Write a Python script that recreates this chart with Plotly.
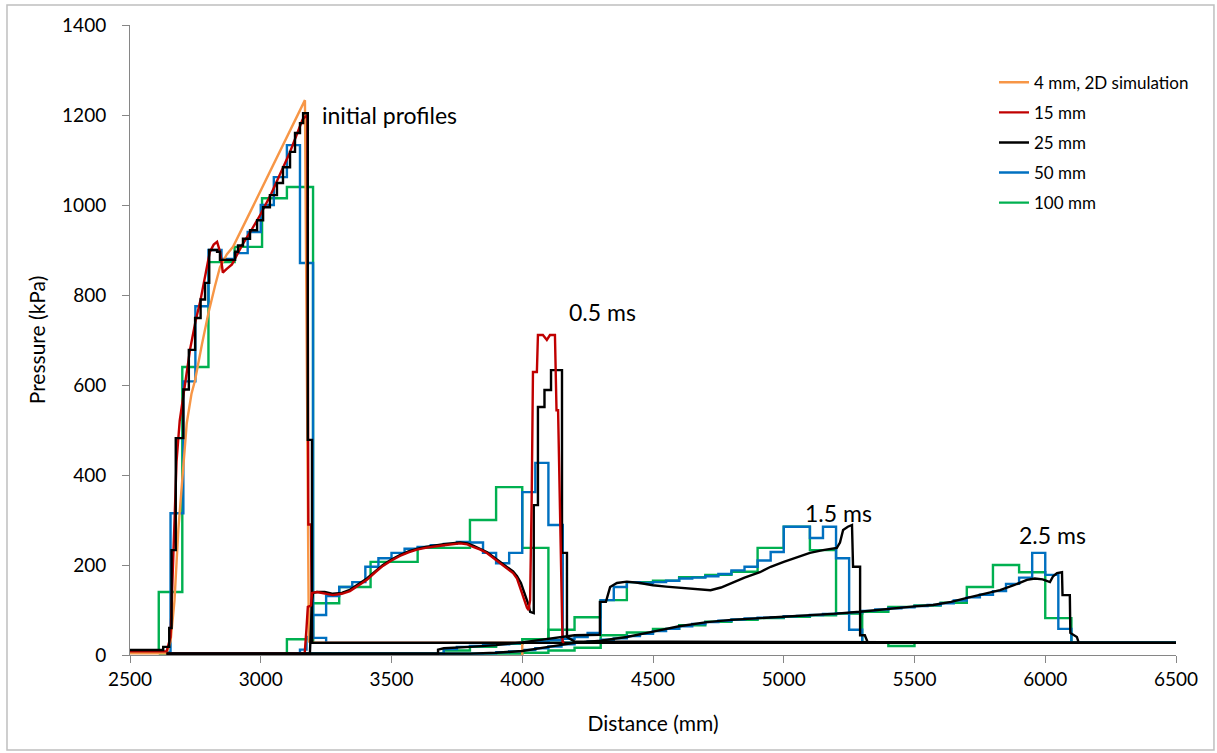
import plotly.graph_objects as go

# ---------------- series colours ----------------
C_4MM = "#F79646"
C_15MM = "#C00000"
C_25MM = "#000000"
C_50MM = "#0070C0"
C_100MM = "#00B050"

# ---------------- initial profiles ----------------
init_4mm_x = [2500, 2640, 2655, 2670, 2685, 2700, 2717, 2735, 2749, 2775, 2800, 2825, 2844, 2870, 2894,
              2950, 3000, 3050, 3100, 3140, 3169, 3184, 3190, 4000, 4000]
init_4mm_y = [4, 4, 30, 120, 280, 400, 515, 580, 611, 690, 760, 820, 862, 890, 907,
              973, 1033, 1092, 1152, 1198, 1233, 30, 27, 27, 0]

init_15mm_x = [2500, 2640, 2655, 2662, 2670, 2678, 2690, 2710, 2730, 2750, 2770, 2790, 2805, 2820, 2833,
               2845, 2855, 2870, 2890, 2910, 2930, 2960, 3000, 3040, 3080, 3110, 3140, 3160, 3178,
               3182, 3192, 3196, 4000]
init_15mm_y = [8, 8, 40, 150, 300, 430, 520, 600, 680, 740, 790, 850, 895, 912, 918,
               895, 850, 858, 868, 890, 912, 940, 980, 1025, 1075, 1115, 1160, 1190, 1200,
               290, 290, 27, 27]

# 25 mm cells (step starts / cell values)
init_25mm_x = [2500, 2627, 2650, 2659, 2675, 2704, 2725, 2749, 2770, 2787, 2803, 2833, 2844, 2902, 2913,
               2932, 2959, 2986, 3009, 3035, 3062, 3085, 3112, 3131, 3150, 3162, 3180, 3196, 6500]
init_25mm_y = [11, 18, 60, 233, 482, 590, 678, 749, 790, 827, 900, 896, 878, 896, 910,
               925, 944, 966, 995, 1022, 1049, 1084, 1118, 1160, 1182, 1204, 478, 27, 27]

init_50mm_x = [2500, 2655, 2704, 2750, 2800, 2850, 2900, 2950, 3000, 3050, 3100, 3150, 3200, 3250, 6500]
init_50mm_y = [6, 315, 608, 775, 900, 880, 893, 940, 1000, 1062, 1133, 871, 38, 27, 27]

init_100mm_x = [2500, 2610, 2700, 2800, 2900, 3005, 3100, 3200, 6500]
init_100mm_y = [5, 140, 640, 873, 907, 1015, 1040, 27, 27]

# ---------------- 0.5 ms profiles ----------------
t05_15mm_x = [2640, 3168, 3175, 3180, 3192, 3196, 3215, 3245, 3276, 3310, 3341, 3375, 3406, 3440, 3467,
              3500, 3532, 3565, 3597, 3630, 3659, 3700, 3762, 3790, 3812, 3840, 3866, 3890, 3915,
              3940, 3965, 3980, 3991, 4005, 4018, 4024, 4030, 4036, 4041, 4056, 4060, 4079, 4094,
              4106, 4125, 4131, 4137, 4154, 4160]
t05_15mm_y = [3, 3, 60, 107, 110, 138, 140, 136, 133, 136, 142, 155, 167, 185, 198,
              210, 220, 228, 234, 238, 241, 244, 248, 246, 240, 234, 226, 215, 204,
              193, 182, 170, 151, 125, 105, 100, 122, 344, 629, 629, 711, 711, 700,
              711, 711, 544, 544, 30, 27]

t05_25mm_x = [2640, 3188, 3196, 3200, 3215, 3245, 3276, 3310, 3341, 3375, 3406, 3440, 3467, 3500, 3532,
              3565, 3597, 3630, 3659, 3700, 3762, 3790, 3812, 3840, 3866, 3890, 3915, 3940, 3965,
              3980, 3995, 4010, 4025, 4030, 4044, 4044, 4060, 4060, 4085, 4085, 4110, 4110, 4152,
              4152, 4171, 4171, 4200, 6500]
t05_25mm_y = [3, 3, 122, 138, 140, 140, 136, 138, 145, 158, 170, 187, 200, 212, 222,
              230, 236, 240, 243, 246, 250, 248, 243, 236, 228, 218, 206, 196, 186,
              175, 160, 135, 110, 96, 93, 333, 333, 551, 551, 589, 589, 633, 633,
              227, 227, 40, 30, 27]

t05_50mm_x = [2655, 3150, 3175, 3200, 3250, 3300, 3350, 3400, 3450, 3500, 3550, 3600, 3650, 3700, 3750,
              3800, 3850, 3900, 3950, 4000, 4050, 4100, 4155, 6500]
t05_50mm_y = [3, 12, 40, 89, 131, 151, 162, 196, 215, 227, 236, 240, 244, 247, 251,
              250, 227, 204, 227, 362, 427, 289, 27, 27]

t05_100mm_x = [2610, 3100, 3200, 3300, 3420, 3600, 3800, 3900, 4000, 4100, 6500]
t05_100mm_y = [3, 35, 115, 151, 207, 238, 300, 373, 238, 27, 27]

# ---------------- 1.5 ms profiles ----------------
t15_25mm_x = [2640, 3678, 3678, 3700, 3800, 3900, 4000, 4100, 4200, 4297, 4297, 4320, 4336, 4362, 4400,
              4450, 4500, 4550, 4600, 4650, 4720, 4760, 4800, 4850, 4909, 4950, 5000, 5050, 5100,
              5150, 5203, 5215, 5227, 5245, 5261, 5265, 5292, 5292, 5310, 5322, 6500]
t15_25mm_y = [3, 3, 12, 15, 18, 22, 28, 36, 44, 45, 118, 118, 151, 160, 163,
              160, 155, 152, 150, 147, 144, 150, 160, 172, 184, 196, 207, 217, 227,
              233, 238, 250, 278, 285, 289, 196, 196, 44, 44, 27, 27]

t15_50mm_x = [2640, 3700, 3750, 3800, 3850, 3900, 3950, 4000, 4050, 4100, 4150, 4200, 4250, 4300, 4350,
              4400, 4450, 4500, 4550, 4600, 4650, 4700, 4750, 4800, 4850, 4900, 4950, 5000, 5050,
              5100, 5150, 5200, 5250, 5300, 6500]
t15_50mm_y = [3, 13, 18, 20, 22, 24, 26, 28, 30, 33, 36, 40, 49, 122, 151,
              162, 160, 162, 165, 170, 172, 175, 180, 188, 196, 210, 229, 285, 285,
              260, 285, 215, 56, 27, 27]

t15_100mm_x = [2640, 3700, 3800, 3900, 4000, 4100, 4200, 4300, 4400, 4500, 4600, 4700, 4800, 4900, 5000,
               5100, 5200, 5300, 5400, 5500, 6500]
t15_100mm_y = [3, 10, 18, 25, 35, 56, 84, 122, 162, 165, 173, 178, 185, 238, 285,
               233, 93, 27, 20, 27, 27]

# ---------------- 2.5 ms profiles ----------------
t25_25mm_x = [2640, 3800, 3900, 4000, 4100, 4200, 4300, 4400, 4500, 4600, 4706, 4800, 4909, 5000, 5100,
              5200, 5291, 5400, 5500, 5571, 5640, 5701, 5760, 5827, 5880, 5930, 5960, 5990, 6018,
              6030, 6045, 6064, 6066, 6094, 6096, 6121, 6128, 6500]
t25_25mm_y = [3, 3, 5, 9, 18, 27, 32, 40, 52, 64, 73, 78, 82, 85, 88,
              92, 96, 103, 108, 111, 118, 127, 135, 144, 155, 167, 170, 168, 162,
              175, 182, 184, 133, 133, 49, 40, 27, 27]

t25_50mm_x = [2640, 3800, 3850, 3900, 3950, 4000, 4050, 4100, 4150, 4200, 4250, 4300, 4350, 4400, 4450,
              4500, 4550, 4600, 4650, 4700, 4750, 4800, 4850, 4900, 4950, 5000, 5050, 5100, 5150,
              5200, 5250, 5300, 5350, 5400, 5450, 5500, 5550, 5600, 5650, 5700, 5750, 5800, 5850,
              5900, 5950, 6000, 6050, 6100, 6500]
t25_50mm_y = [3, 3, 4, 6, 8, 11, 15, 19, 24, 28, 30, 34, 37, 42, 47,
              53, 58, 64, 69, 73, 76, 79, 81, 83, 84, 86, 87, 89, 91,
              93, 95, 98, 101, 104, 106, 109, 111, 115, 121, 128, 134, 142, 158,
              172, 227, 178, 58, 27, 27]

t25_100mm_x = [2640, 3900, 4000, 4100, 4200, 4300, 4400, 4500, 4600, 4700, 4800, 4900, 5000, 5100, 5200,
               5300, 5400, 5500, 5600, 5700, 5800, 5900, 6000, 6100, 6500]
t25_100mm_y = [3, 3, 5, 10, 16, 44, 50, 58, 66, 74, 78, 82, 85, 88, 92,
               96, 107, 110, 116, 151, 200, 184, 82, 27, 27]

# ---------------- labels ----------------
legend_names = ["4 mm, 2D simulation", "15 mm", "25 mm", "50 mm", "100 mm"]
time_labels = ["initial profiles", "0.5 ms", "1.5 ms", "2.5 ms"]
time_label_x = [3225, 4172, 5074, 5892]
time_label_y = [1200, 762, 316, 267]

FONT = "Lato"
LW = 2.4

fig = go.Figure()


def add(x, y, color, name, rank, shape, show):
    fig.add_trace(go.Scatter(
        x=x, y=y, mode="lines", name=name, legendgroup=name, showlegend=show,
        legendrank=rank, line=dict(color=color, width=LW, shape=shape),
        hoverinfo="skip"))


# drawing order: coarse cells underneath, fine cells on top
add(init_100mm_x, init_100mm_y, C_100MM, legend_names[4], 5, "hv", True)
add(t05_100mm_x, t05_100mm_y, C_100MM, legend_names[4], 5, "hv", False)
add(t15_100mm_x, t15_100mm_y, C_100MM, legend_names[4], 5, "hv", False)
add(t25_100mm_x, t25_100mm_y, C_100MM, legend_names[4], 5, "hv", False)

add(init_50mm_x, init_50mm_y, C_50MM, legend_names[3], 4, "hv", True)
add(t05_50mm_x, t05_50mm_y, C_50MM, legend_names[3], 4, "hv", False)
add(t15_50mm_x, t15_50mm_y, C_50MM, legend_names[3], 4, "hv", False)
add(t25_50mm_x, t25_50mm_y, C_50MM, legend_names[3], 4, "hv", False)

add(init_4mm_x, init_4mm_y, C_4MM, legend_names[0], 1, "linear", True)
add(init_15mm_x, init_15mm_y, C_15MM, legend_names[1], 2, "linear", True)
add(init_25mm_x, init_25mm_y, C_25MM, legend_names[2], 3, "hv", True)
add(t05_25mm_x, t05_25mm_y, C_25MM, legend_names[2], 3, "linear", False)
add(t05_15mm_x, t05_15mm_y, C_15MM, legend_names[1], 2, "linear", False)
add(t15_25mm_x, t15_25mm_y, C_25MM, legend_names[2], 3, "linear", False)
add(t25_25mm_x, t25_25mm_y, C_25MM, legend_names[2], 3, "linear", False)

for txt, tx, ty in zip(time_labels, time_label_x, time_label_y):
    fig.add_annotation(x=tx, y=ty, text=txt, showarrow=False, xanchor="left", yanchor="middle",
                       font=dict(family=FONT, size=23, color="#000000"))

axis_common = dict(showgrid=False, zeroline=False, showline=True, linecolor="#868686", linewidth=1,
                   ticks="outside", ticklen=7, tickcolor="#868686", tickwidth=1,
                   tickfont=dict(family=FONT, size=19, color="#000000"))

fig.update_xaxes(range=[2500, 6500], dtick=500, tick0=2500,
                 title=dict(text="Distance (mm)", font=dict(family=FONT, size=21, color="#000000"), standoff=27),
                 **axis_common)
fig.update_yaxes(range=[0, 1400], dtick=200, tick0=0, ticklabelstandoff=12,
                 title=dict(text="Pressure (kPa)", font=dict(family=FONT, size=21, color="#000000"), standoff=10),
                 **axis_common)

# outer chart-area frame
fig.add_shape(type="rect", xref="paper", yref="paper", x0=-0.1176, x1=1.0363, y0=-0.1508, y1=1.0317,
              line=dict(color="#BFBFBF", width=1.5), fillcolor="rgba(0,0,0,0)", layer="below")

fig.update_layout(
    width=1217, height=753,
    margin=dict(l=130, r=41, t=25, b=98),
    paper_bgcolor="white", plot_bgcolor="white",
    showlegend=True,
    legend=dict(x=0.826, y=0.937, xanchor="left", yanchor="top", bgcolor="rgba(0,0,0,0)",
                font=dict(family=FONT, size=17, color="#000000"), tracegroupgap=5,
                itemwidth=30),
)

fig.write_html("out.html")
